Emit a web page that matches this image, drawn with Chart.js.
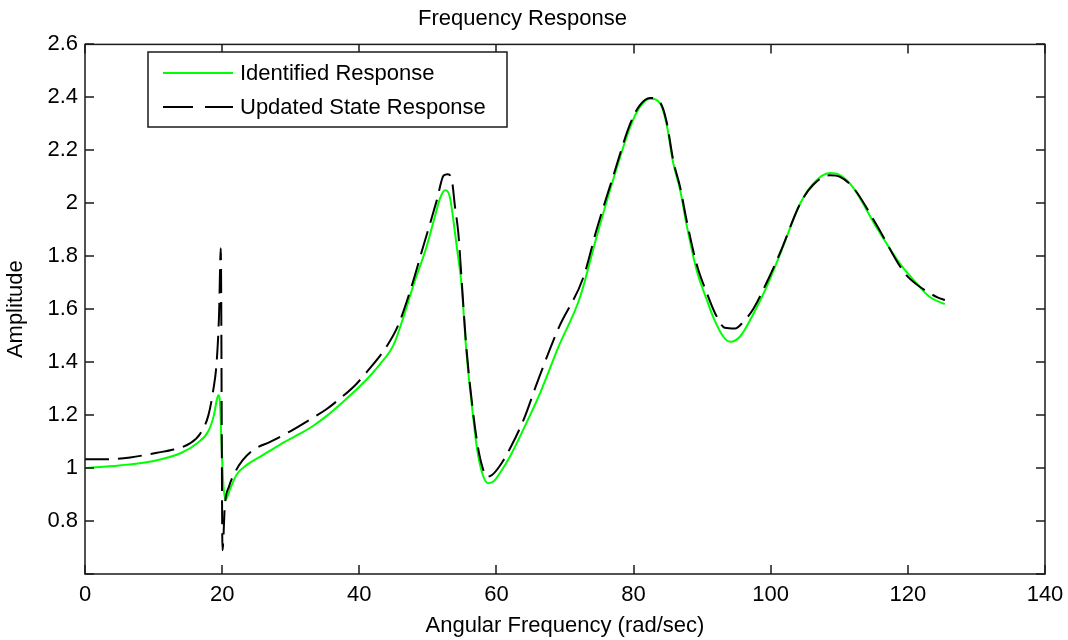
<!DOCTYPE html>
<html>
<head>
<meta charset="utf-8">
<title>Frequency Response</title>
<script src="https://cdn.jsdelivr.net/npm/chart.js@4.4.1/dist/chart.umd.min.js"></script>
<style>
  body { margin: 0; background: #fff; }
  #wrap { width: 1068px; height: 640px; }
</style>
</head>
<body>
<div id="wrap"><canvas id="freq-chart" width="1068" height="640"></canvas></div>
<script>
// values
const identifiedFreq = [0, 5, 10, 14, 16.3, 18.0, 18.8, 19.2, 19.45, 19.7, 19.9, 20.15, 20.5, 21.1, 22.1, 23.6, 25.5, 28.4, 31.0, 33.3, 35.3, 37.2, 40.6, 43.0, 45.0, 46.5, 47.9, 49.8, 51.0, 51.8, 52.5, 53.2, 53.9, 54.4, 54.9, 55.6, 56.6, 57.2, 58.0, 58.8, 59.6, 60.6, 62.0, 64.0, 66.4, 69.0, 72.2, 74.6, 77.0, 79.5, 80.9, 82.4, 83.9, 84.8, 85.8, 86.8, 87.7, 89.2, 90.7, 91.6, 93.1, 94.1, 95.5, 97.5, 99.4, 101.4, 104.3, 106.2, 108.6, 110.1, 112.0, 115.4, 118.9, 121.3, 123.2, 125.4];
const identifiedAmp = [1.000, 1.010, 1.027, 1.057, 1.093, 1.140, 1.200, 1.255, 1.275, 1.240, 1.100, 0.950, 0.880, 0.917, 0.975, 1.012, 1.042, 1.088, 1.125, 1.160, 1.198, 1.240, 1.322, 1.392, 1.465, 1.575, 1.692, 1.835, 1.948, 2.020, 2.049, 2.025, 1.900, 1.800, 1.697, 1.445, 1.194, 1.068, 0.975, 0.943, 0.950, 0.985, 1.045, 1.150, 1.285, 1.455, 1.646, 1.873, 2.087, 2.288, 2.363, 2.395, 2.376, 2.300, 2.150, 2.049, 1.923, 1.747, 1.634, 1.571, 1.496, 1.477, 1.496, 1.584, 1.684, 1.810, 1.999, 2.074, 2.114, 2.106, 2.060, 1.910, 1.770, 1.697, 1.646, 1.619];

const updatedFreq = [0, 4, 6.6, 10.5, 12.9, 15.3, 16.8, 18.0, 18.7, 19.2, 19.55, 19.8, 20.05, 20.4, 21.0, 22.0, 23.0, 24.5, 27.0, 30.0, 33.1, 35.2, 37.3, 39.4, 41.1, 44.0, 45.6, 47.6, 49.3, 50.6, 51.3, 52.3, 52.9, 53.5, 53.96, 54.45, 54.9, 55.6, 56.6, 57.3, 58.0, 58.6, 59.4, 60.4, 62.0, 64.0, 65.9, 69.0, 72.7, 74.6, 77.0, 79.5, 80.9, 82.4, 83.9, 84.8, 85.8, 86.8, 87.7, 89.2, 90.7, 91.9, 93.3, 94.8, 96.0, 97.5, 99.4, 101.4, 104.3, 106.2, 108.6, 110.1, 112.0, 115.4, 118.9, 119.8, 122.0, 124.4, 125.4];
const updatedAmp = [1.033, 1.034, 1.040, 1.058, 1.070, 1.093, 1.130, 1.200, 1.294, 1.400, 1.580, 1.830, 0.690, 0.860, 0.930, 0.990, 1.030, 1.068, 1.099, 1.140, 1.188, 1.222, 1.265, 1.313, 1.363, 1.460, 1.535, 1.684, 1.835, 1.948, 2.011, 2.105, 2.110, 2.087, 1.986, 1.886, 1.720, 1.460, 1.210, 1.080, 1.000, 0.967, 0.975, 1.005, 1.075, 1.185, 1.320, 1.525, 1.722, 1.900, 2.100, 2.300, 2.370, 2.398, 2.380, 2.310, 2.160, 2.060, 1.940, 1.770, 1.660, 1.584, 1.530, 1.527, 1.552, 1.603, 1.700, 1.815, 1.999, 2.070, 2.106, 2.100, 2.060, 1.920, 1.760, 1.728, 1.680, 1.644, 1.635];

const xTicks = [0, 20, 40, 60, 80, 100, 120, 140];
const yTicks = [0.6, 0.8, 1, 1.2, 1.4, 1.6, 1.8, 2, 2.2, 2.4, 2.6];
const seriesNames = ['Identified Response', 'Updated State Response'];

const FONT = 'Liberation Sans, Arial, sans-serif';

const toPoints = (xs, ys) => xs.map((x, i) => ({ x: x, y: ys[i] }));

// white page + box with inward ticks, like matlab axes
const frameTicks = {
    id: 'frameTicks',
    beforeDraw(chart) {
        const ctx = chart.ctx;
        ctx.save();
        ctx.fillStyle = '#fff';
        ctx.fillRect(0, 0, chart.width, chart.height);
        ctx.restore();
    },
    afterDatasetsDraw(chart) {
        const { ctx, chartArea: a, scales } = chart;
        const len = 9;
        ctx.save();
        ctx.strokeStyle = '#1a1a1a';
        ctx.lineWidth = 1.5;
        ctx.beginPath();
        xTicks.forEach(v => {
            const px = Math.round(scales.x.getPixelForValue(v));
            ctx.moveTo(px, a.bottom); ctx.lineTo(px, a.bottom - len);
            ctx.moveTo(px, a.top); ctx.lineTo(px, a.top + len);
        });
        yTicks.forEach(v => {
            const py = Math.round(scales.y.getPixelForValue(v));
            ctx.moveTo(a.left, py); ctx.lineTo(a.left + len, py);
            ctx.moveTo(a.right, py); ctx.lineTo(a.right - len, py);
        });
        ctx.stroke();
        ctx.strokeRect(a.left, a.top, a.right - a.left, a.bottom - a.top);
        ctx.restore();
    },
    afterDraw(chart) {
        // legend box in the upper left corner
        const ctx = chart.ctx;
        const box = { x: 148, y: 52, w: 359, h: 75 };
        ctx.save();
        ctx.fillStyle = '#fff';
        ctx.fillRect(box.x, box.y, box.w, box.h);
        ctx.strokeStyle = '#1a1a1a';
        ctx.lineWidth = 1.5;
        ctx.strokeRect(box.x, box.y, box.w, box.h);
        const rows = [73, 107];
        chart.data.datasets.forEach((ds, i) => {
            ctx.beginPath();
            ctx.strokeStyle = ds.borderColor;
            ctx.lineWidth = 2;
            ctx.setLineDash(i === 1 ? [30, 12] : []);
            ctx.moveTo(163, rows[i]);
            ctx.lineTo(233, rows[i]);
            ctx.stroke();
            ctx.setLineDash([]);
            ctx.fillStyle = '#000';
            ctx.font = '22px ' + FONT;
            ctx.textBaseline = 'middle';
            ctx.fillText(ds.label, 240, rows[i] + 1);
        });
        ctx.restore();
    }
};

const ctx = document.getElementById('freq-chart').getContext('2d');
window.freqChart = new Chart(ctx, {
    type: 'line',
    data: {
        datasets: [
            {
                label: seriesNames[0],
                data: toPoints(identifiedFreq, identifiedAmp),
                borderColor: '#00ff00',
                borderWidth: 2,
                pointRadius: 0,
                cubicInterpolationMode: 'monotone',
                order: 1
            },
            {
                label: seriesNames[1],
                data: toPoints(updatedFreq, updatedAmp),
                borderColor: '#000000',
                borderWidth: 2,
                borderDash: [24, 9],
                pointRadius: 0,
                cubicInterpolationMode: 'monotone',
                order: 0
            }
        ]
    },
    options: {
        responsive: false,
        animation: false,
        layout: { padding: { left: 0, right: 23, top: 0, bottom: 0 } },
        plugins: {
            legend: { display: false },
            tooltip: { enabled: false },
            title: {
                display: true,
                text: 'Frequency Response',
                color: '#000',
                font: { family: FONT, size: 22, weight: 'normal' },
                padding: { top: 6, bottom: 12 }
            }
        },
        scales: {
            x: {
                type: 'linear',
                min: 0,
                max: 140,
                afterBuildTicks: s => { s.ticks = xTicks.map(v => ({ value: v })); },
                afterFit: s => { s.height = 66; s.paddingLeft = 0; s.paddingRight = 0; },
                grid: { display: false, drawTicks: false },
                border: { display: false },
                ticks: {
                    color: '#000',
                    padding: 8,
                    maxRotation: 0,
                    font: { family: FONT, size: 22 }
                },
                title: {
                    display: true,
                    text: 'Angular Frequency (rad/sec)',
                    color: '#000',
                    font: { family: FONT, size: 22 },
                    padding: { top: 0, bottom: 1 }
                }
            },
            y: {
                min: 0.6,
                max: 2.6,
                afterBuildTicks: s => { s.ticks = yTicks.map(v => ({ value: v })); },
                afterFit: s => { s.width = 85; },
                grid: { display: false, drawTicks: false },
                border: { display: false },
                ticks: {
                    color: '#000',
                    padding: 7,
                    font: { family: FONT, size: 22 },
                    callback: v => (v < 0.7 ? '' : String(Number(v.toFixed(1))))
                },
                title: {
                    display: true,
                    text: 'Amplitude',
                    color: '#000',
                    font: { family: FONT, size: 22 },
                    padding: { top: 3, bottom: 0 }
                }
            }
        }
    },
    plugins: [frameTicks]
});
</script>
</body>
</html>
